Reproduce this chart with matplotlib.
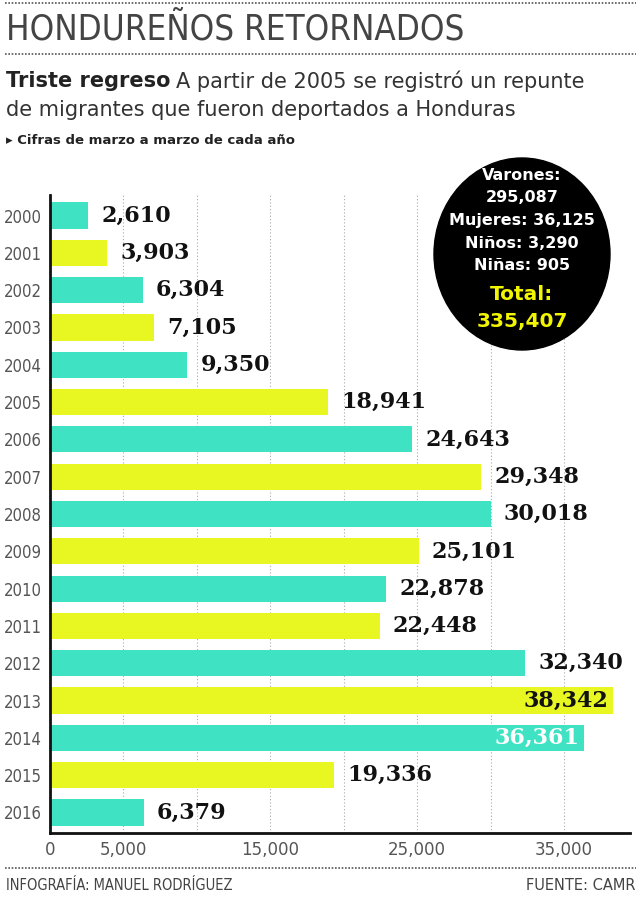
import matplotlib.pyplot as plt
from matplotlib.patches import Ellipse

years = [str(y) for y in range(2000, 2017)]
values = [2610, 3903, 6304, 7105, 9350, 18941, 24643, 29348, 30018,
          25101, 22878, 22448, 32340, 38342, 36361, 19336, 6379]
tick_values = [0, 5000, 15000, 25000, 35000]
tick_labels = ["0", "5,000", "15,000", "25,000", "35,000"]
grid_values = [5000, 10000, 15000, 20000, 25000, 30000, 35000]
summary = [("Varones:", "white"), ("295,087", "white"), ("Mujeres: 36,125", "white"),
           ("Niños: 3,290", "white"), ("Niñas: 905", "white"),
           ("Total:", "#f2f500"), ("335,407", "#f2f500")]

TEAL = "#3fe3c3"
YELLOW = "#e8f722"
W, H = 641, 900

fig = plt.figure(figsize=(W / 100, H / 100), dpi=100)
fig.patch.set_facecolor("white")


def fx(px):
    return px / W


def fy(py):
    return 1 - py / H


# header
fig.add_artist(plt.Line2D([fx(5), fx(636)], [fy(3), fy(3)], color="#555", lw=1.2, ls=(0, (1, 1))))
fig.text(fx(6), fy(30), "HONDUREÑOS RETORNADOS", fontsize=25, color="#444",
         family="DejaVu Sans", fontstretch="condensed", fontweight="light", va="center")
fig.add_artist(plt.Line2D([fx(5), fx(636)], [fy(54), fy(54)], color="#555", lw=1.2, ls=(0, (1, 1))))
t = fig.text(fx(6), fy(81), "Triste regreso", fontsize=15, fontweight="bold", color="#222", va="center")
fig.canvas.draw()
bb = t.get_window_extent()
fig.text(bb.x1 / fig.dpi / fig.get_figwidth() + 0.008, fy(81),
         "A partir de 2005 se registró un repunte", fontsize=15, color="#333", va="center")
fig.text(fx(6), fy(110), "de migrantes que fueron deportados a Honduras",
         fontsize=15, color="#333", va="center")
fig.text(fx(6), fy(140), "▸ Cifras de marzo a marzo de cada año", fontsize=9.5,
         fontweight="bold", color="#222", va="center")

# chart
ax = fig.add_axes([fx(50), fy(833), fx(630) - fx(50), fy(195) - fy(833)])
xmax = 39500
ax.set_xlim(0, xmax)
y = list(range(len(years)))
colors = [TEAL if i % 2 == 0 else YELLOW for i in y]
ax.barh(y, values, height=0.7, color=colors, zorder=2)
ax.set_ylim(len(years) - 0.45, -0.55)
ax.set_yticks(y)
ax.set_yticklabels(years, fontsize=12, color="#555", fontstretch="condensed")
ax.set_xticks(tick_values)
ax.set_xticklabels(tick_labels, fontsize=12, color="#555")
for g in grid_values:
    ax.axvline(g, ls=(0, (1, 2)), color="#aaa", lw=0.8, zorder=0)
ax.tick_params(length=0, pad=6)
for s in ["top", "right"]:
    ax.spines[s].set_visible(False)
for s in ["left", "bottom"]:
    ax.spines[s].set_linewidth(2)
    ax.spines[s].set_color("#111")

for i, v in enumerate(values):
    if v > 36000:
        c = "white" if colors[i] == TEAL else "#111"
        ax.text(v - 300, i, f"{v:,}", ha="right", va="center", fontsize=16,
                fontweight="bold", family="DejaVu Serif", color=c, zorder=3)
    else:
        ax.text(v + 900, i, f"{v:,}", ha="left", va="center", fontsize=16,
                fontweight="bold", family="DejaVu Serif", color="#111", zorder=3)

# summary circle
fig.add_artist(Ellipse((fx(522), fy(254)), 176 / W, 192 / H, color="black", zorder=5))
ys = [176, 198, 220, 243, 265, 294, 322]
for (txt, c), py in zip(summary, ys):
    big = c != "white"
    fig.text(fx(522), fy(py), txt, ha="center", va="center", color=c,
             fontsize=14.5 if big else 11.5, fontweight="bold", zorder=6)

# footer
fig.add_artist(plt.Line2D([fx(5), fx(636)], [fy(868), fy(868)], color="#555", lw=1.2, ls=(0, (1, 1))))
fig.text(fx(6), fy(885), "INFOGRAFÍA: MANUEL RODRÍGUEZ", fontsize=10.5, color="#444",
         fontstretch="condensed", va="center")
fig.text(fx(636), fy(885), "FUENTE: CAMR", fontsize=10.5, color="#444", ha="right", va="center")

fig.savefig("out.png", dpi=100)
